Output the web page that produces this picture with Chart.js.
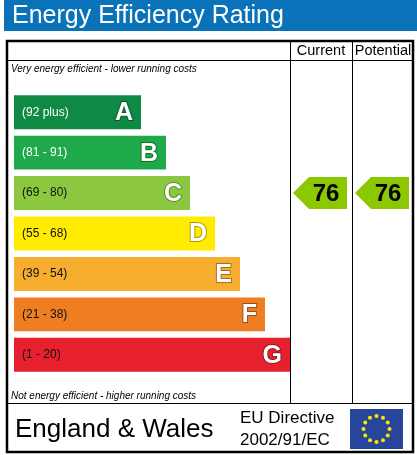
<!DOCTYPE html>
<html><head><meta charset="utf-8">
<script src="https://cdn.jsdelivr.net/npm/chart.js@4"></script>
<style>body{margin:0;background:#fff}#wrap{width:417px;height:455px}</style>
</head><body><div id="wrap"><canvas id="c"></canvas></div>
<script>
const bands = ['A', 'B', 'C', 'D', 'E', 'F', 'G'];
const ranges = ['(92 plus)', '(81 - 91)', '(69 - 80)', '(55 - 68)', '(39 - 54)', '(21 - 38)', '(1 - 20)'];
const barLengths = [127, 152, 176, 201, 226, 251, 276];
const bandColors = ['#0f8a45', '#1ea94a', '#8cc83f', '#ffec00', '#f7ae2e', '#ef7d22', '#e6202c'];
const rangeTextColors = ['#fff', '#fff', '#111', '#111', '#111', '#111', '#111'];
const currentRating = 76, potentialRating = 76;
const currentBand = 'C', potentialBand = 'C';
const FONT = '"Liberation Sans", Arial, sans-serif';

const frame = {
    id: 'frame',
    beforeDraw(chart) {
        const ctx = chart.ctx;
        ctx.save();
        ctx.fillStyle = '#0a72b9';
        ctx.fillRect(4, 0, 413, 31);
        ctx.fillStyle = '#fff';
        ctx.font = '25px ' + FONT;
        ctx.textBaseline = 'middle';
        ctx.fillText('Energy Efficiency Rating', 12, 16);
        ctx.strokeStyle = '#000';
        ctx.lineWidth = 2.5;
        ctx.strokeRect(7, 41, 406, 411);
        ctx.lineWidth = 1;
        ctx.beginPath();
        ctx.moveTo(7, 60.5); ctx.lineTo(413, 60.5);
        ctx.moveTo(7, 403.5); ctx.lineTo(413, 403.5);
        ctx.moveTo(290.5, 41); ctx.lineTo(290.5, 403);
        ctx.moveTo(352.5, 41); ctx.lineTo(352.5, 403);
        ctx.stroke();
        ctx.fillStyle = '#000';
        ctx.font = '14.5px ' + FONT;
        ctx.textAlign = 'center';
        ctx.fillText('Current', 321, 51);
        ctx.fillText('Potential', 383, 51);
        ctx.textAlign = 'left';
        ctx.font = 'italic 10px ' + FONT;
        ctx.fillText('Very energy efficient - lower running costs', 11, 69);
        ctx.fillText('Not energy efficient - higher running costs', 11, 396);
        ctx.font = '26px ' + FONT;
        ctx.fillText('England & Wales', 15, 430);
        ctx.font = '17px ' + FONT;
        ctx.fillText('EU Directive', 240, 418);
        ctx.fillText('2002/91/EC', 240, 440);
        ctx.fillStyle = '#27459b';
        ctx.fillRect(350, 409, 53, 40);
        ctx.fillStyle = '#ffe600';
        for (let i = 0; i < 12; i++) {
            const a = i * Math.PI / 6;
            const x = 376.5 + 13 * Math.cos(a), y = 429 + 13 * Math.sin(a);
            ctx.beginPath(); ctx.arc(x, y, 2, 0, 2 * Math.PI); ctx.fill();
        }
        ctx.restore();
    },
    afterDatasetsDraw(chart) {
        const ctx = chart.ctx;
        const meta = chart.getDatasetMeta(0);
        ctx.save();
        ctx.textBaseline = 'middle';
        meta.data.forEach((bar, i) => {
            ctx.fillStyle = rangeTextColors[i];
            ctx.font = '12px ' + FONT;
            ctx.textAlign = 'left';
            ctx.fillText(ranges[i], 22, bar.y);
            ctx.font = 'bold 25px ' + FONT;
            ctx.textAlign = 'right';
            ctx.lineWidth = 2;
            ctx.strokeStyle = 'rgba(0,0,0,0.35)';
            ctx.strokeText(bands[i], bar.x - 8, bar.y + 1);
            ctx.fillStyle = '#fff';
            ctx.fillText(bands[i], bar.x - 8, bar.y + 1);
        });
        const yScale = chart.scales.y;
        function arrow(left, band, value) {
            const idx = bands.indexOf(band);
            const y = yScale.getPixelForValue(idx);
            const h = 32, w = 54;
            ctx.fillStyle = '#8cc800';
            ctx.beginPath();
            ctx.moveTo(left, y);
            ctx.lineTo(left + 16, y - h / 2);
            ctx.lineTo(left + w, y - h / 2);
            ctx.lineTo(left + w, y + h / 2);
            ctx.lineTo(left + 16, y + h / 2);
            ctx.closePath();
            ctx.fill();
            ctx.fillStyle = '#000';
            ctx.font = 'bold 24px ' + FONT;
            ctx.textAlign = 'center';
            ctx.fillText(String(value), left + 33, y + 1);
        }
        arrow(293, currentBand, currentRating);
        arrow(355, potentialBand, potentialRating);
        ctx.restore();
    }
};

new Chart(document.getElementById('c'), {
    type: 'bar',
    data: {
        labels: bands,
        datasets: [{
            data: barLengths,
            backgroundColor: bandColors,
            categoryPercentage: 1,
            barPercentage: 0.84
        }]
    },
    options: {
        indexAxis: 'y',
        responsive: true,
        maintainAspectRatio: false,
        animation: false,
        layout: { padding: { left: 14, right: 126, top: 92, bottom: 80 } },
        scales: {
            x: { display: false, min: 0, max: 277 },
            y: { display: false }
        },
        plugins: { legend: { display: false }, tooltip: { enabled: false } }
    },
    plugins: [frame]
});
</script>
</body></html>
